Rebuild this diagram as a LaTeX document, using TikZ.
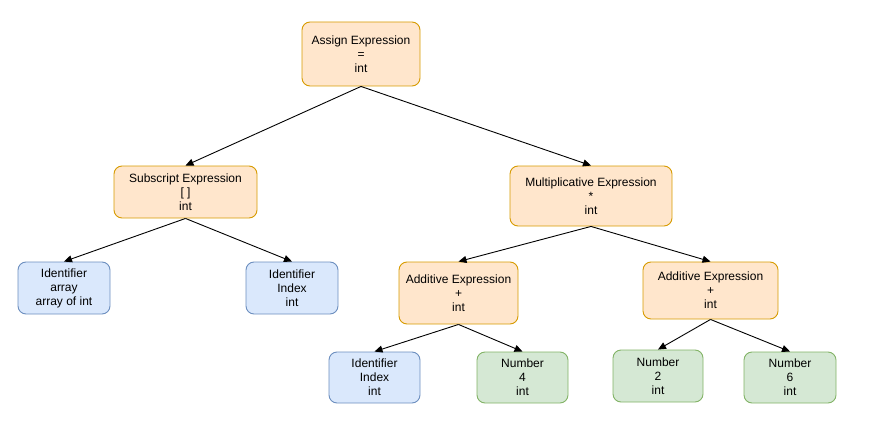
\documentclass[tikz,border=0pt]{standalone}
\usepackage{fontspec}
\setmainfont{Liberation Sans}
\usetikzlibrary{arrows.meta}
\definecolor{ofill}{HTML}{FFE6CC}
\definecolor{odraw}{HTML}{D79B00}
\definecolor{bfill}{HTML}{DAE8FC}
\definecolor{bdraw}{HTML}{6C8EBF}
\definecolor{gfill}{HTML}{D5E8D4}
\definecolor{gdraw}{HTML}{82B366}
\tikzset{
  box/.style={rectangle, rounded corners=8pt, line width=0.9pt, align=center, inner sep=0pt,
    font=\fontsize{12}{14}\selectfont, text=black},
  obox/.style={box, fill=ofill, draw=odraw},
  bbox/.style={box, fill=bfill, draw=bdraw},
  gbox/.style={box, fill=gfill, draw=gdraw},
  conn/.style={line width=0.9pt, -{Stealth[length=8pt,width=7pt,inset=0pt]}}
}
\begin{document}
\begin{tikzpicture}[x=1pt,y=-1pt]
\useasboundingbox (0,0) rectangle (877,441);
\node[obox, minimum width=118pt, minimum height=64pt] (assign) at (361,54) {Assign Expression\\=\\int};
\node[obox, minimum width=143pt, minimum height=52pt] (sub) at (185.5,192) {Subscript Expression\\{[ ]}\\int};
\node[obox, minimum width=162pt, minimum height=60pt] (mul) at (591,196) {Multiplicative Expression\\*\\int};
\node[bbox, minimum width=92pt, minimum height=52pt] (arr) at (64,288) {Identifier\\array\\array of int};
\node[bbox, minimum width=92pt, minimum height=52pt] (idx1) at (292,288) {Identifier\\Index\\int};
\node[obox, minimum width=119pt, minimum height=62pt] (add1) at (458.5,293) {Additive Expression\\+\\int};
\node[obox, minimum width=135pt, minimum height=57pt] (add2) at (710.5,290.5) {Additive Expression\\+\\int};
\node[bbox, minimum width=91pt, minimum height=51pt] (idx2) at (374.5,377.5) {Identifier\\Index\\int};
\node[gbox, minimum width=91pt, minimum height=51pt] (n4) at (522.5,377.5) {Number\\4\\int};
\node[gbox, minimum width=90pt, minimum height=52pt] (n2) at (658,376) {Number\\2\\int};
\node[gbox, minimum width=92pt, minimum height=51pt] (n6) at (790,377.5) {Number\\6\\int};
\draw[conn] (assign.south) -- (sub.north);
\draw[conn] (assign.south) -- (mul.north);
\draw[conn] (sub.south) -- (arr.north);
\draw[conn] (sub.south) -- (idx1.north);
\draw[conn] (mul.south) -- (add1.north);
\draw[conn] (mul.south) -- (add2.north);
\draw[conn] (add1.south) -- (idx2.north);
\draw[conn] (add1.south) -- (n4.north);
\draw[conn] (add2.south) -- (n2.north);
\draw[conn] (add2.south) -- (n6.north);
\end{tikzpicture}
\end{document}
